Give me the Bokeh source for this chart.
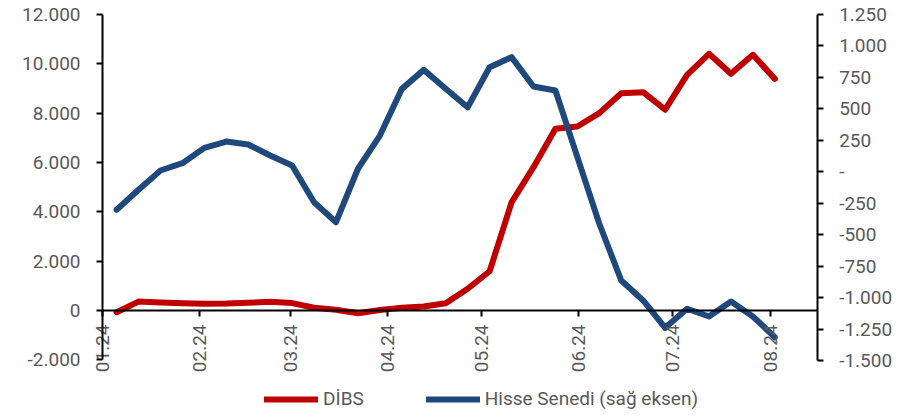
import math
import pandas as pd
from datetime import datetime, timedelta
from bokeh.plotting import figure
from bokeh.models import (Range1d, LinearAxis, FixedTicker, Legend, LegendItem,
                          DatetimeTickFormatter)
from bokeh.embed import file_html
from bokeh.resources import INLINE

# ---- data ----
first_week = "2024-01-05"
dibs = [-70, 360, 320, 290, 270, 280, 310, 350, 300, 110, 30, -110, 20, 110, 160,
        290, 880, 1590, 4380, 5810, 7365, 7460, 8000, 8810, 8850, 8140, 9555,
        10405, 9595, 10365, 9390]
hisse = [-302, -143, 10, 68, 190, 240, 217, 129, 50, -242, -401, 24, 288, 659, 810,
         660, 513, 831, 911, 678, 646, 116, -413, -864, -1023, -1240, -1089, -1150,
         -1031, -1150, -1315]
left_ticks = [-2000, 0, 2000, 4000, 6000, 8000, 10000, 12000]
left_labels = ["-2.000", "0", "2.000", "4.000", "6.000", "8.000", "10.000", "12.000"]
right_ticks = [-1500, -1250, -1000, -750, -500, -250, 0, 250, 500, 750, 1000, 1250]
right_labels = ["-1.500", "-1.250", "-1.000", "-750", "-500", "-250", "-", "250",
                "500", "750", "1.000", "1.250"]
month_starts = ["2024-01-01", "2024-02-01", "2024-03-01", "2024-04-01",
                "2024-05-01", "2024-06-01", "2024-07-01", "2024-08-01"]
axis_start, axis_end = datetime(2024, 1, 1), datetime(2024, 8, 16)
series_names = ["DİBS", "Hisse Senedi (sağ eksen)"]

dates = pd.date_range(first_week, periods=len(dibs), freq="7D") + pd.Timedelta(hours=12)
month_ticks = [pd.Timestamp(m).timestamp() * 1000 for m in month_starts]

RED = "#C00000"
BLUE = "#1F497D"
GREY = "#595959"
FONT = "Roboto"
FS = "19px"

W, H = 906, 416
PX_PER_DAY = 3.1345
L_PX_PER_UNIT = 0.024664
R_PX_PER_UNIT = 0.12582
AX_LEFT, AX_TOP = 102, 14   # pixel position of the left axis and of the top tick

x0 = axis_start - timedelta(days=AX_LEFT / PX_PER_DAY)
x1 = x0 + timedelta(days=W / PX_PER_DAY)
yl1 = left_ticks[-1] + AX_TOP / L_PX_PER_UNIT
yl0 = left_ticks[-1] - (H - AX_TOP) / L_PX_PER_UNIT
yr1 = right_ticks[-1] + AX_TOP / R_PX_PER_UNIT
yr0 = right_ticks[-1] - (H - AX_TOP) / R_PX_PER_UNIT

# the frame covers the whole drawing; the axes sit at fixed positions inside it
p = figure(frame_width=W, frame_height=H, x_axis_type="datetime",
           x_range=Range1d(x0, x1), y_range=Range1d(yl0, yl1),
           output_backend="svg", toolbar_location=None,
           min_border_left=0, min_border_right=0, min_border_top=0,
           min_border_bottom=0)
p.extra_y_ranges = {"right": Range1d(yr0, yr1)}
p.outline_line_color = None
p.xgrid.visible = False
p.ygrid.visible = False
p.background_fill_color = "white"
p.border_fill_color = "white"

start_ms = pd.Timestamp(axis_start).timestamp() * 1000
end_ms = pd.Timestamp(axis_end).timestamp() * 1000

# x axis at y = 0
xa = p.xaxis[0]
xa.fixed_location = 0
xa.bounds = (start_ms, end_ms)
xa.ticker = FixedTicker(ticks=month_ticks)
fmt = "%m.%y"
xa.formatter = DatetimeTickFormatter(milliseconds=fmt, seconds=fmt, minsec=fmt,
                                     minutes=fmt, hourmin=fmt, hours=fmt, days=fmt,
                                     months=fmt, years=fmt)
xa.major_label_orientation = math.pi / 2

ya = p.yaxis[0]
ya.fixed_location = start_ms
ya.ticker = FixedTicker(ticks=left_ticks)
ya.bounds = (left_ticks[0], left_ticks[-1])
ya.major_label_overrides = {t: l for t, l in zip(left_ticks, left_labels)}

ra = LinearAxis(y_range_name="right", ticker=FixedTicker(ticks=right_ticks),
                bounds=(right_ticks[0], right_ticks[-1]), fixed_location=end_ms)
ra.major_label_overrides = {t: l for t, l in zip(right_ticks, right_labels)}
p.add_layout(ra, "right")

for ax in [xa, ya, ra]:
    ax.axis_line_color = "black"
    ax.axis_line_width = 2
    ax.major_tick_line_color = "black"
    ax.major_tick_line_width = 2
    ax.major_tick_in = 0
    ax.major_tick_out = 6
    ax.minor_tick_line_color = None
    ax.major_label_text_color = GREY
    ax.major_label_text_font = FONT
    ax.major_label_text_font_size = FS
    ax.major_label_standoff = 16
xa.major_label_standoff = 8

r1 = p.line(dates, dibs, line_width=6, color=RED, line_join="round", line_cap="round")
r2 = p.line(dates, hisse, line_width=6, color=BLUE, line_join="round", line_cap="round",
            y_range_name="right")

legend = Legend(items=[LegendItem(label=series_names[0], renderers=[r1]),
                       LegendItem(label=series_names[1], renderers=[r2])],
                orientation="horizontal", location=(264, 6),
                glyph_width=54, glyph_height=18, label_height=18,
                label_standoff=5, spacing=62, padding=0, margin=0,
                border_line_color=None, background_fill_alpha=0,
                label_text_font=FONT, label_text_font_size=FS,
                label_text_color=GREY)
p.add_layout(legend, "center")

open("out.html", "w").write(file_html(p, INLINE))
